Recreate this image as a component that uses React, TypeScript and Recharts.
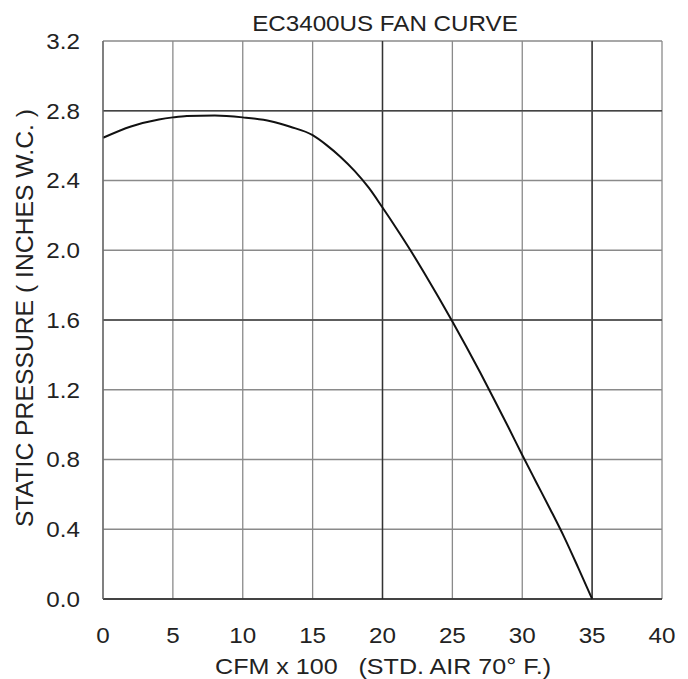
import React from "react";
import { LineChart, Line, XAxis, YAxis, CartesianGrid, ReferenceLine } from "recharts";

const cfm = [0, 2, 4, 5, 6, 8, 10, 12, 13.4, 15, 16, 17, 18, 19, 20, 21, 22, 23, 24, 25, 26, 27, 28, 29, 30, 31, 32, 33, 34, 35];
const pressure = [2.645, 2.71, 2.75, 2.762, 2.77, 2.773, 2.762, 2.74, 2.708, 2.66, 2.603, 2.535, 2.455, 2.36, 2.245, 2.125, 2.0, 1.868, 1.732, 1.592, 1.447, 1.297, 1.143, 0.986, 0.826, 0.67, 0.515, 0.355, 0.18, 0];
const xTicks = [0, 5, 10, 15, 20, 25, 30, 35, 40];
const yTicks = [0, 0.4, 0.8, 1.2, 1.6, 2.0, 2.4, 2.8, 3.2];
const darkX = [20, 35];
const darkY = [1.6, 2.8];
const title = "EC3400US FAN CURVE";
const xTitle = "CFM x 100\u00a0\u00a0\u00a0(STD. AIR 70\u00b0 F.)";
const yTitle = "STATIC PRESSURE ( INCHES W.C. )";

const data = cfm.map((c, i) => ({ cfm: c, p: pressure[i] }));

const FONT = "'Liberation Sans', Arial, sans-serif";
const FS = 22;
const TXT = "#222";

const XTick = (props: any) => {
  const { x, y, payload } = props;
  return (
    <g transform={`translate(${x},${y})`}>
      <text transform="scale(1.1,1)" textAnchor="middle" dy="0.71em" fontFamily={FONT} fontSize={FS} fill={TXT}>
        {payload.value}
      </text>
    </g>
  );
};

const YTick = (props: any) => {
  const { x, y, payload } = props;
  return (
    <g transform={`translate(${x},${y})`}>
      <text transform="scale(1.1,1)" textAnchor="end" dy="0.355em" fontFamily={FONT} fontSize={FS} fill={TXT}>
        {Number(payload.value).toFixed(1)}
      </text>
    </g>
  );
};

export default function App() {
  return (
    <div style={{ position: "absolute", left: 0, top: 0, width: 688, height: 679, background: "#fff" }}>
      <svg width={688} height={40} style={{ position: "absolute", left: 0, top: 0 }}>
        <g transform="translate(385,31)">
          <text transform="scale(1.1,1)" textAnchor="middle" fontFamily={FONT} fontSize={FS} fill={TXT}>
            {title}
          </text>
        </g>
      </svg>
      <LineChart width={688} height={679} data={data} margin={{ top: 41, right: 26, left: 0, bottom: 0 }}>
        <CartesianGrid stroke="#8a8a8a" strokeWidth={1.3} horizontalValues={yTicks} verticalValues={xTicks} />
        {darkX.map((x) => (
          <ReferenceLine key={"x" + x} x={x} stroke="#333" strokeWidth={1.4} />
        ))}
        {darkY.map((y) => (
          <ReferenceLine key={"y" + y} y={y} stroke="#444" strokeWidth={1.4} />
        ))}
        <XAxis
          dataKey="cfm"
          type="number"
          domain={[0, 40]}
          ticks={xTicks}
          height={80}
          tickSize={0}
          tickMargin={28}
          axisLine={{ stroke: "#222", strokeWidth: 1.6 }}
          tick={<XTick />}
          label={{
            content: () => (
              <g transform="translate(383,674)">
                <text transform="scale(1.14,1)" textAnchor="middle" fontFamily={FONT} fontSize={FS} fill={TXT}>
                  {xTitle}
                </text>
              </g>
            ),
          }}
        />
        <YAxis
          type="number"
          domain={[0, 3.2]}
          ticks={yTicks}
          width={103}
          tickSize={0}
          tickMargin={23}
          axisLine={{ stroke: "#666", strokeWidth: 1.3 }}
          tick={<YTick />}
          label={{
            content: () => (
              <g transform="translate(25,318) rotate(-90)">
                <text
                  transform="scale(1.03,1)"
                  textAnchor="middle"
                  dominantBaseline="central"
                  fontFamily={FONT}
                  fontSize={24}
                  fill={TXT}
                >
                  {yTitle}
                </text>
              </g>
            ),
          }}
        />
        <Line type="monotone" dataKey="p" stroke="#111" strokeWidth={2} dot={false} isAnimationActive={false} />
      </LineChart>
    </div>
  );
}
